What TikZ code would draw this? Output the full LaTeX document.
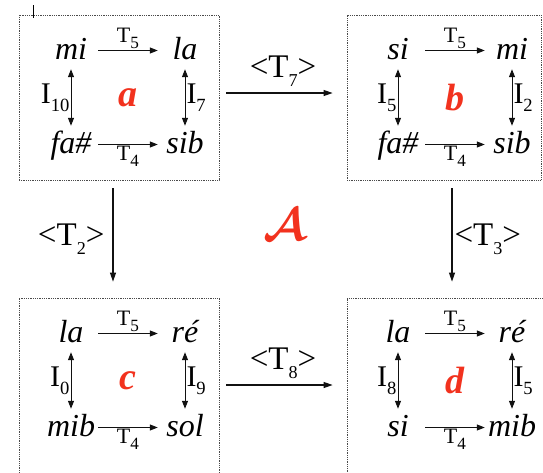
\documentclass[tikz,border=0pt]{standalone}
\usepackage{fontspec}
\usepackage{amsmath}
\setmainfont{Liberation Serif}
\usetikzlibrary{arrows.meta}

\definecolor{tdink}{HTML}{111111}
\definecolor{tdred}{HTML}{F2321E}
\definecolor{tdframe}{HTML}{4A4A4A}
\newcommand\ind[2][.7]{\raisebox{-.28em}{\scalebox{#1}{#2}}}

\begin{document}
\begin{tikzpicture}[
  x=1pt,y=-1pt,
  font=\fontsize{18}{20}\selectfont,
  frame/.style={draw=tdframe,line width=.8pt,dash pattern=on .9pt off .9pt,inner sep=0pt},
  note/.style={font=\itshape\fontsize{32}{34}\selectfont,anchor=base,minimum width=54pt,
    inner xsep=0pt,inner ysep=10pt,text height=17pt,text depth=0pt},
  trans/.style={draw=tdink,line width=1pt,-{Triangle[length=8pt,width=6pt]}},
  inv/.style={draw=tdink,line width=1pt,{Triangle[length=8pt,width=6pt]}-{Triangle[length=8pt,width=6pt]}},
  link/.style={draw=tdink,line width=1.1pt,-{Triangle[length=9pt,width=6pt]}},
  lbl/.style={font=\fontsize{22}{24}\selectfont,inner sep=1pt},
  ilbl/.style={font=\fontsize{30}{32}\selectfont,inner sep=1pt},
  glbl/.style={font=\fontsize{33}{35}\selectfont,inner sep=2pt},
  tag/.style={text=tdred,font=\bfseries\itshape\fontsize{38}{40}\selectfont}
]
  \path[use as bounding box] (0,0) rectangle (543,472);
  % frames
  \node[frame,minimum width=200pt,minimum height=165pt] (frame-a) at (119,97.5) {};
  \node[frame,minimum width=194pt,minimum height=165pt] (frame-b) at (444,97.5) {};
  \node[frame,minimum width=200pt,minimum height=182pt] (frame-c) at (119,389) {};
  \node[frame,minimum width=203pt,minimum height=182pt] (frame-d) at (448.5,389) {};
  \draw[line width=.8pt] (33,5) -- (33,18);
  % the four squares
  \foreach \bx/\dx/\dy/\nw/\ne/\sw/\se/\il/\ir/\lt in {
      a/0/0/mi/la/{fa\#}/sib/10/7/a,
      b/327/0/si/mi/{fa\#}/sib/5/2/b,
      c/0/283/la/ré/mib/sol/0/9/c,
      d/327/283/la/ré/si/mib/8/5/d}{
    \begin{scope}[shift={(\dx,\dy)}]
      \node[note] (\bx-nw) at (71,59) {\nw};
      \node[note] (\bx-ne) at (185,59) {\ne};
      \node[note] (\bx-sw) at (71,153) {\sw};
      \node[note] (\bx-se) at (185,153) {\se};
      \node[tag] (\bx-tag) at (128,97.5) {\lt};
      \draw[trans] (\bx-nw) -- (\bx-ne) node[lbl,midway,above] (\bx-t5) {T\ind[.78]{5}};
      \draw[trans] (\bx-sw) -- (\bx-se) node[lbl,midway,below] (\bx-t4) {T\ind[.78]{4}};
      \draw[inv] (\bx-nw) -- (\bx-sw) node[ilbl,midway,left] (\bx-il) {I\ind[.62]{\il}};
      \draw[inv] (\bx-ne) -- (\bx-se) node[ilbl,midway,right] (\bx-ir) {I\ind[.62]{\ir}};
    \end{scope}
  }
  % links between squares
  \draw[link,shorten <=7pt,shorten >=14pt] ([yshift=4.5pt]frame-a.east) -- ([yshift=4.5pt]frame-b.west)
    node[glbl,midway,above=4pt] (t7) {<T\ind[.55]{7}>};
  \draw[link,shorten <=8pt,shorten >=16pt] ([xshift=-6pt]frame-a.south) -- ([xshift=-6pt]frame-a.south |- frame-c.north)
    node[glbl,midway,left=6pt] (t2) {<T\ind[.55]{2}>};
  \draw[link,shorten <=8pt,shorten >=16pt] ([xshift=8pt]frame-b.south) -- ([xshift=8pt]frame-b.south |- frame-d.north)
    node[glbl,midway,right=0pt] (t3) {<T\ind[.55]{3}>};
  \draw[link,shorten <=7pt,shorten >=14pt] ([yshift=4pt]frame-c.east) -- ([yshift=4pt]frame-d.west)
    node[glbl,midway,above=4pt] (t8) {<T\ind[.55]{8}>};
  \node[text=tdred,font=\fontsize{10}{12}\selectfont] (alg) at (285,225)
    {\scalebox{4.6}{$\boldsymbol{\mathcal{A}}$}};
\end{tikzpicture}
\end{document}
